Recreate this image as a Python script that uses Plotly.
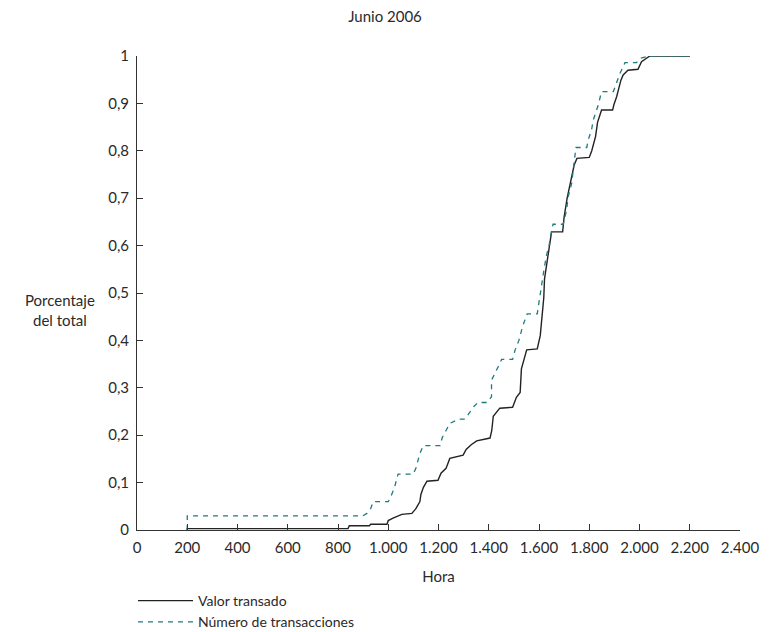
import plotly.graph_objects as go

# Valor transado (solid)
hora_valor = [200, 200, 840, 845, 925, 930, 995, 1000, 1019, 1040, 1054, 1094, 1110, 1126, 1130, 1140, 1154,
              1198, 1210, 1230, 1245, 1298, 1310, 1330, 1352, 1405, 1412, 1418, 1444, 1495, 1510, 1525, 1530,
              1551, 1593, 1605, 1610, 1619, 1622, 1630, 1640, 1650, 1694, 1700, 1712, 1726, 1740, 1751, 1800,
              1810, 1825, 1833, 1845, 1849, 1893, 1898, 1909, 1918, 1926, 1935, 1948, 1954, 1994, 2008, 2041, 2201]
valor = [0.0, 0.003, 0.003, 0.009, 0.009, 0.012, 0.012, 0.02, 0.025, 0.03, 0.033, 0.035, 0.045, 0.06, 0.075, 0.09, 0.103,
         0.105, 0.12, 0.13, 0.151, 0.158, 0.17, 0.18, 0.188, 0.194, 0.21, 0.24, 0.257, 0.259, 0.28, 0.29, 0.34,
         0.38, 0.382, 0.41, 0.44, 0.49, 0.53, 0.56, 0.6, 0.629, 0.629, 0.66, 0.7, 0.738, 0.77, 0.784, 0.786,
         0.8, 0.83, 0.86, 0.88, 0.886, 0.886, 0.897, 0.914, 0.932, 0.949, 0.96, 0.968, 0.97, 0.972, 0.988, 1.0, 1.0]

# Número de transacciones (dashed)
hora_numero = [200, 200, 899, 915, 930, 940, 1000, 1010, 1025, 1039, 1099, 1110, 1125, 1139, 1206, 1215, 1230,
               1245, 1282, 1305, 1320, 1340, 1357, 1392, 1411, 1411, 1438, 1451, 1495, 1505, 1520, 1535, 1553,
               1593, 1597, 1605, 1620, 1630, 1640, 1650, 1656, 1696, 1710, 1716, 1730, 1736, 1743, 1747, 1790,
               1796, 1809, 1816, 1836, 1849, 1896, 1909, 1922, 1935, 1942, 1988, 2002, 2041, 2201]
numero = [0.0, 0.03, 0.03, 0.035, 0.045, 0.06, 0.06, 0.07, 0.09, 0.118, 0.118, 0.13, 0.16, 0.178, 0.178, 0.195, 0.21,
          0.225, 0.234, 0.234, 0.245, 0.26, 0.269, 0.269, 0.281, 0.316, 0.345, 0.36, 0.36, 0.38, 0.4, 0.43, 0.456,
          0.456, 0.47, 0.5, 0.55, 0.58, 0.6, 0.63, 0.645, 0.645, 0.675, 0.703, 0.731, 0.759, 0.784, 0.807, 0.807,
          0.823, 0.844, 0.865, 0.897, 0.925, 0.925, 0.946, 0.963, 0.977, 0.986, 0.986, 0.995, 1.0, 1.0]

x_ticks = [0, 200, 400, 600, 800, 1000, 1200, 1400, 1600, 1800, 2000, 2200, 2400]
y_ticks = [0, 0.1, 0.2, 0.3, 0.4, 0.5, 0.6, 0.7, 0.8, 0.9, 1]

FONT = "Lato"
TXT = "#2a2a2a"

# page has an 8px body margin: figure is drawn 8px right/down
W, H = 761, 624

fig = go.Figure()
fig.add_trace(go.Scatter(x=hora_valor, y=valor, mode="lines", name="Valor transado",
                         line=dict(color="#222222", width=1.4)))
fig.add_trace(go.Scatter(x=hora_numero, y=numero, mode="lines", name="Número de transacciones",
                         line=dict(color="#1f7a82", width=1.3, dash="5px,5px")))

fig.update_layout(
    width=W, height=H,
    margin=dict(l=129, r=29, t=48, b=102, autoexpand=False),
    paper_bgcolor="white", plot_bgcolor="white",
    separators=",.",
    font=dict(family=FONT, size=15, color=TXT),
    title=dict(text="Junio 2006", x=(385 - 8) / W, xref="container", xanchor="center",
               y=1 - 9 / H, yref="container", yanchor="middle",
               font=dict(family=FONT, size=15, color=TXT)),
    showlegend=True,
    legend=dict(orientation="v", x=125 / W, xref="container", xanchor="left",
                y=1 - 577 / H, yref="container", yanchor="top",
                font=dict(family=FONT, size=14, color=TXT),
                bgcolor="rgba(0,0,0,0)", tracegroupgap=0, itemwidth=55),
    annotations=[dict(text="Porcentaje<br>del total", x=(60 - 137) / 603, xref="paper", xanchor="center",
                      y=(530 - 310) / 474, yref="paper", yanchor="middle", showarrow=False,
                      font=dict(family=FONT, size=15, color=TXT))],
)

fig.update_xaxes(range=[0, 2400], tickvals=x_ticks, tickformat=",d", automargin=False,
                 showgrid=False, zeroline=False, showline=True, linecolor="#333333", linewidth=1,
                 ticks="inside", ticklen=6, tickcolor="#333333", ticklabelstandoff=4,
                 title=dict(text="Hora", standoff=16, font=dict(family=FONT, size=15)),
                 fixedrange=True)
fig.update_yaxes(range=[0, 1], tickvals=y_ticks, automargin=False,
                 showgrid=False, zeroline=False, showline=True, linecolor="#333333", linewidth=1,
                 ticks="inside", ticklen=6, tickcolor="#333333", ticklabelstandoff=4,
                 fixedrange=True)

fig.write_html("out.html")
